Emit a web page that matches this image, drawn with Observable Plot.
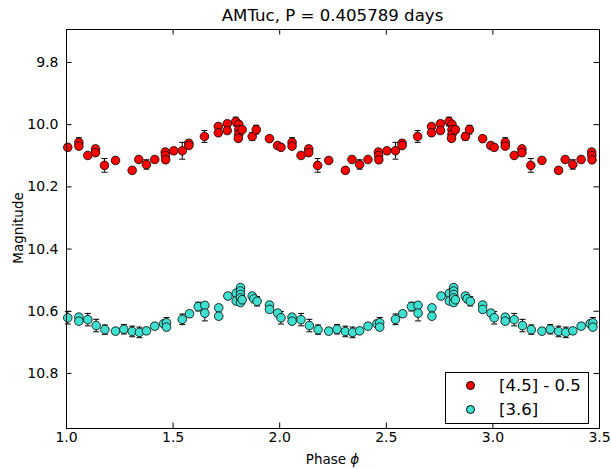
<!DOCTYPE html>
<html>
<head>
<meta charset="utf-8">
<script src="https://cdn.jsdelivr.net/npm/d3@7"></script>
<script src="https://cdn.jsdelivr.net/npm/@observablehq/plot@0.6"></script>
<style>
  html, body { margin: 0; padding: 0; background: #fff; }
  #wrap { position: relative; width: 611px; height: 469px; font-family: "DejaVu Sans", sans-serif; }
  #wrap svg { position: absolute; left: 0; top: 0; }
  .ann { position: absolute; white-space: nowrap; color: #000; }
  #title { left: 0; width: 665px; top: 6px; text-align: center; font-size: 16.6px; }
  #xlabel { left: 0; width: 665px; top: 451px; text-align: center; font-size: 13.5px; }
  #ylabel { left: 18px; top: 228px; font-size: 13.5px; transform: translate(-50%, -50%) rotate(-90deg); }
  #legend { position: absolute; left: 445px; top: 372px; width: 142px; height: 50px; border: 1px solid #000; background: #fff; font-size: 16.5px; }
  .lrow { position: absolute; left: 0; height: 20px; display: flex; align-items: center; }
  .lrow .mk { width: 7px; height: 7px; border-radius: 50%; border: 0.8px solid #000; margin-left: 20px; margin-right: 24px; }
</style>
</head>
<body>
<div id="wrap">
  <div id="chart"></div>
  <div id="title" class="ann"></div>
  <div id="xlabel" class="ann"></div>
  <div id="ylabel" class="ann"></div>
  <div id="legend"></div>
</div>
<script>
// ---- data (one cycle in phase, repeated over the plotted phase range) ----
const titleText = "AMTuc, P = 0.405789 days";
const xLabelText = "Phase ";
const yLabelText = "Magnitude";
const seriesNames = ["[4.5] - 0.5", "[3.6]"];
const seriesColors = ["#ff0000", "#40e0d0"];

const xTicks = [1.0, 1.5, 2.0, 2.5, 3.0, 3.5];
const yTicks = [9.8, 10.0, 10.2, 10.4, 10.6, 10.8];

// [4.5] - 0.5
const phase45 = [0.006,0.058,0.058,0.100,0.136,0.136,0.178,0.230,0.308,0.339,0.375,0.414,0.463,0.464,0.465,0.503,0.543,0.574,0.574,0.647,0.712,0.712,0.754,0.754,0.794,0.808,0.808,0.808,0.806,0.824,0.871,0.890,0.952,0.990];
const mag45   = [10.073,10.057,10.069,10.099,10.078,10.090,10.131,10.115,10.147,10.112,10.128,10.112,10.088,10.099,10.113,10.084,10.084,10.060,10.067,10.038,10.006,10.026,9.997,10.019,9.990,9.999,10.016,10.031,10.044,10.016,10.038,10.016,10.045,10.067];
const err45   = [0.010,0.015,0.010,0.010,0.010,0.010,0.022,0.010,0.010,0.010,0.015,0.010,0.010,0.010,0.010,0.010,0.027,0.010,0.010,0.019,0.010,0.010,0.010,0.010,0.014,0.010,0.010,0.010,0.010,0.010,0.012,0.014,0.010,0.010];

// [3.6]
const phase36 = [0.006,0.058,0.058,0.100,0.139,0.180,0.230,0.269,0.308,0.342,0.375,0.414,0.456,0.469,0.469,0.543,0.577,0.618,0.649,0.649,0.714,0.714,0.757,0.796,0.796,0.816,0.816,0.816,0.816,0.816,0.824,0.871,0.879,0.894,0.952,0.952,0.991];
const mag36   = [10.621,10.619,10.632,10.627,10.646,10.659,10.664,10.658,10.665,10.668,10.663,10.648,10.640,10.637,10.651,10.626,10.608,10.585,10.581,10.606,10.589,10.616,10.551,10.542,10.567,10.524,10.535,10.546,10.557,10.572,10.563,10.551,10.560,10.568,10.580,10.594,10.606];
const err36   = [0.020,0.010,0.010,0.020,0.020,0.015,0.010,0.015,0.017,0.017,0.010,0.010,0.010,0.017,0.010,0.017,0.010,0.014,0.010,0.025,0.010,0.010,0.010,0.010,0.010,0.010,0.010,0.010,0.010,0.010,0.010,0.010,0.010,0.015,0.010,0.010,0.010];

const cycles = [0, 1, 2, 3];
const xDomain = [1.0, 3.5];
const yDomain = [9.694, 10.977];

function unfold(phase, mag, err, series) {
  const out = [];
  for (const c of cycles) {
    phase.forEach((p, i) => {
      const x = p + c;
      if (x >= xDomain[0] && x <= xDomain[1]) out.push({x, y: mag[i], e: err[i], series});
    });
  }
  return out;
}
const data45 = unfold(phase45, mag45, err45, seriesNames[0]);
const data36 = unfold(phase36, mag36, err36, seriesNames[1]);
const all = data45.concat(data36);

const W = 611, H = 469;
const mL = 66, mR = 12, mT = 29, mB = 41;
const fw = W - mL - mR, fh = H - mT - mB;
const tick = 5.5;

const capSymbol = { draw(ctx) { ctx.moveTo(-3, 0); ctx.lineTo(3, 0); } };

const chart = Plot.plot({
  width: W, height: H,
  marginLeft: mL, marginRight: mR, marginTop: mT, marginBottom: mB,
  style: { fontFamily: "DejaVu Sans, sans-serif", background: "white", overflow: "visible" },
  x: { domain: xDomain },
  y: { domain: yDomain, reverse: true },
  marks: [
    Plot.ruleX(all, { x: "x", y1: d => d.y - d.e, y2: d => d.y + d.e, stroke: "#000", strokeWidth: 1 }),
    Plot.dot(all, { x: "x", y: d => d.y - d.e, symbol: capSymbol, r: 3, stroke: "#000", strokeWidth: 1, fill: "none" }),
    Plot.dot(all, { x: "x", y: d => d.y + d.e, symbol: capSymbol, r: 3, stroke: "#000", strokeWidth: 1, fill: "none" }),
    Plot.dot(data45, { x: "x", y: "y", r: 4.3, fill: seriesColors[0], stroke: "#000", strokeWidth: 0.8 }),
    Plot.dot(data36, { x: "x", y: "y", r: 4.3, fill: seriesColors[1], stroke: "#000", strokeWidth: 0.8 }),
    Plot.frame({ stroke: "#000", strokeWidth: 1 }),
    Plot.tickX(xTicks, { x: d => d, insetTop: fh - tick, stroke: "#000" }),
    Plot.tickX(xTicks, { x: d => d, insetBottom: fh - tick, stroke: "#000" }),
    Plot.tickY(yTicks, { y: d => d, insetRight: fw - tick, stroke: "#000" }),
    Plot.tickY(yTicks, { y: d => d, insetLeft: fw - tick, stroke: "#000" }),
    Plot.axisX(xTicks, { tickSize: 0, tickPadding: 4, tickFormat: d3.format(".1f"), label: null, fontSize: 14, fill: "#000" }),
    Plot.axisY(yTicks, { tickSize: 0, tickPadding: 8, tickFormat: d3.format(".1f"), label: null, fontSize: 14, fill: "#000" })
  ]
});
document.getElementById("chart").appendChild(chart);

document.getElementById("title").textContent = titleText;
const xl = document.getElementById("xlabel");
xl.textContent = xLabelText;
const phi = document.createElement("i");
phi.textContent = "ϕ";
xl.appendChild(phi);
document.getElementById("ylabel").textContent = yLabelText;

const legend = document.getElementById("legend");
seriesNames.forEach((name, i) => {
  const row = document.createElement("div");
  row.className = "lrow";
  row.style.top = (i === 0 ? 2 : 26) + "px";
  const mk = document.createElement("div");
  mk.className = "mk";
  mk.style.background = seriesColors[i];
  const tx = document.createElement("span");
  tx.textContent = name;
  row.appendChild(mk);
  row.appendChild(tx);
  legend.appendChild(row);
});
</script>
</body>
</html>
